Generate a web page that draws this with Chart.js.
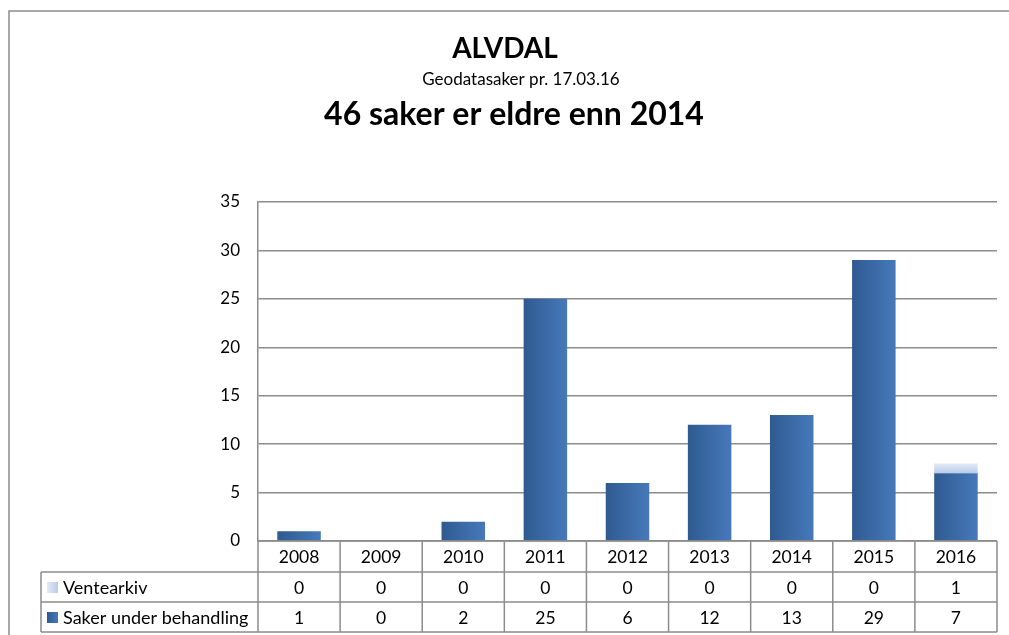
<!DOCTYPE html>
<html>
<head>
<meta charset="utf-8">
<script src="https://cdn.jsdelivr.net/npm/chart.js@4"></script>
<style>
  html, body { margin: 0; padding: 0; background: #fff; }
  #wrap { position: relative; width: 1009px; height: 635px; }
</style>
</head>
<body>
<div id="wrap"><canvas id="chart" width="1009" height="635"></canvas></div>
<script>
const years = ["2008", "2009", "2010", "2011", "2012", "2013", "2014", "2015", "2016"];
const underBehandling = [1, 0, 2, 25, 6, 12, 13, 29, 7];
const ventearkiv = [0, 0, 0, 0, 0, 0, 0, 0, 1];
const yTicks = [0, 5, 10, 15, 20, 25, 30, 35];
const titleLines = ["ALVDAL", "Geodatasaker pr. 17.03.16", "46 saker er eldre enn 2014"];

const FONT = "Lato, 'Open Sans', sans-serif";
const gridGray = "#8c8c8c";

// horizontal shading inside each bar, like the office chart
const barFill = (ctx) => {
    const chart = ctx.chart;
    const x = chart.scales.x;
    if (!chart.chartArea || !x || ctx.dataIndex === undefined) return "#3a6aa8";
    const c = x.getPixelForValue(ctx.dataIndex);
    const g = chart.ctx.createLinearGradient(c - 22, 0, c + 22, 0);
    g.addColorStop(0, "#2e5a8f");
    g.addColorStop(1, "#4779bb");
    return g;
};

const waitFill = (ctx) => {
    const chart = ctx.chart;
    const y = chart.scales.y;
    if (!chart.chartArea || !y || ctx.dataIndex === undefined) return "#c8d6ee";
    const base = underBehandling[ctx.dataIndex];
    const top = y.getPixelForValue(base + ventearkiv[ctx.dataIndex]);
    const bot = y.getPixelForValue(base);
    const g = chart.ctx.createLinearGradient(0, top, 0, bot);
    g.addColorStop(0, "#e3eaf6");
    g.addColorStop(1, "#b9cbea");
    return g;
};

const headerPlugin = {
    id: "header",
    beforeDraw(chart) {
        const c = chart.ctx;
        c.save();
        // outer frame
        c.strokeStyle = "#8c8c8c";
        c.lineWidth = 1.5;
        c.beginPath();
        c.moveTo(9, 640);
        c.lineTo(9, 11);
        c.lineTo(1009, 11);
        c.stroke();
        c.fillStyle = "#000";
        c.textAlign = "center";
        c.textBaseline = "middle";
        c.font = "bold 28px " + FONT;
        c.fillText(titleLines[0], 505, 49);
        c.font = "17px " + FONT;
        c.fillText(titleLines[1], 521, 80);
        c.font = "bold 32px " + FONT;
        c.fillText(titleLines[2], 514, 115);
        c.restore();
    }
};

const tablePlugin = {
    id: "dataTable",
    afterDraw(chart) {
        const c = chart.ctx;
        const x = chart.scales.x;
        const area = chart.chartArea;
        const colW = (area.right - area.left) / years.length;
        const rows = [area.bottom, area.bottom + 31, area.bottom + 61, area.bottom + 91];
        const leftEdge = 41;
        c.save();
        c.strokeStyle = gridGray;
        c.lineWidth = 1.5;
        // horizontal lines
        c.beginPath();
        c.moveTo(area.left, rows[0]); c.lineTo(area.right, rows[0]);
        for (let r = 1; r < rows.length; r++) {
            c.moveTo(leftEdge, rows[r]); c.lineTo(area.right, rows[r]);
        }
        // vertical lines
        for (let i = 0; i <= years.length; i++) {
            const px = area.left + i * colW;
            c.moveTo(px, rows[0]); c.lineTo(px, rows[3]);
        }
        c.moveTo(leftEdge, rows[1]); c.lineTo(leftEdge, rows[3]);
        c.stroke();

        c.fillStyle = "#000";
        c.font = "17.5px " + FONT;
        c.textAlign = "center";
        c.textBaseline = "middle";
        years.forEach((yr, i) => {
            const cx = x.getPixelForValue(i);
            c.fillText(yr, cx, (rows[0] + rows[1]) / 2 + 1);
            c.fillText(String(ventearkiv[i]), cx, (rows[1] + rows[2]) / 2 + 1);
            c.fillText(String(underBehandling[i]), cx, (rows[2] + rows[3]) / 2 + 1);
        });

        // legend keys in the row headers
        const labels = [chart.data.datasets[1].label, chart.data.datasets[0].label];
        const keyColors = [["#e3eaf6", "#b9cbea"], ["#2e5a8f", "#4779bb"]];
        c.font = "18px " + FONT;
        labels.forEach((lab, r) => {
            const cy = (rows[r + 1] + rows[r + 2]) / 2;
            const g = c.createLinearGradient(47, 0, 58, 0);
            g.addColorStop(0, keyColors[r][0]);
            g.addColorStop(1, keyColors[r][1]);
            c.fillStyle = g;
            c.fillRect(47, cy - 5, 11, 11);
            c.fillStyle = "#000";
            c.textAlign = "left";
            c.fillText(lab, 63, cy + 1);
        });
        c.restore();
    }
};

new Chart(document.getElementById("chart"), {
    type: "bar",
    data: {
        labels: years,
        datasets: [
            {
                label: "Saker under behandling",
                data: underBehandling,
                backgroundColor: barFill,
                borderWidth: 0
            },
            {
                label: "Ventearkiv",
                data: ventearkiv,
                backgroundColor: waitFill,
                borderWidth: 0
            }
        ]
    },
    options: {
        responsive: false,
        animation: false,
        devicePixelRatio: 1,
        layout: { padding: { left: 0, right: 12, top: 202, bottom: 94 } },
        plugins: {
            legend: { display: false },
            title: { display: false },
            tooltip: { enabled: false }
        },
        datasets: {
            bar: { categoryPercentage: 1, barPercentage: 0.53 }
        },
        scales: {
            x: {
                stacked: true,
                ticks: { display: false },
                grid: { display: false },
                border: { display: false },
                afterFit: (s) => { s.height = 0; }
            },
            y: {
                stacked: true,
                min: 0,
                max: 35,
                afterBuildTicks: (s) => { s.ticks = yTicks.map(v => ({ value: v })); },
                afterFit: (s) => { s.width = 258; },
                ticks: {
                    color: "#000",
                    padding: 18,
                    font: { family: FONT, size: 17 }
                },
                grid: { color: gridGray, lineWidth: 1.5, drawTicks: false },
                border: { color: gridGray, width: 1.5 }
            }
        }
    },
    plugins: [headerPlugin, tablePlugin]
});
</script>
</body>
</html>
